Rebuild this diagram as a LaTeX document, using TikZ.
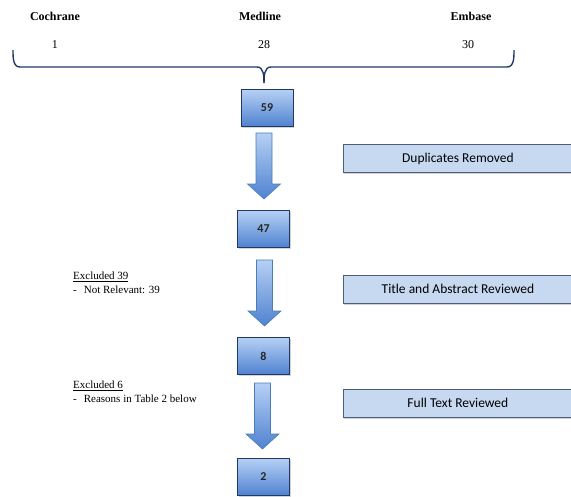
\documentclass[tikz,border=0pt]{standalone}
\usepackage{fontspec}
\setmainfont{Liberation Serif}
\newfontfamily\calibrifont{Carlito}
\usetikzlibrary{calc,shadows}

\definecolor{boxline}{HTML}{1F3864}
\definecolor{boxtop}{HTML}{B6D0F4}
\definecolor{boxbot}{HTML}{4F82D0}
\definecolor{arrowline}{HTML}{4A7EBB}
\definecolor{steplight}{HTML}{C6D9F1}
\definecolor{stepline}{HTML}{4E5D7E}

\begin{document}
\begin{tikzpicture}[x=1pt,y=-1pt,
    numbox/.style={
        rectangle,
        draw=boxline,
        line width=1pt,
        top color=boxtop,
        bottom color=boxbot,
        minimum width=52pt,
        minimum height=37pt,
        font=\calibrifont\bfseries\fontsize{12}{14}\selectfont,
        text=black!85,
        drop shadow={shadow xshift=1pt,shadow yshift=-1.5pt,opacity=0.35}
    },
    stepbox/.style={
        rectangle,
        draw=stepline,
        line width=0.8pt,
        fill=steplight,
        minimum width=229pt,
        minimum height=28pt,
        anchor=west,
        font=\calibrifont\fontsize{13.5}{15}\selectfont,
        drop shadow={shadow xshift=1pt,shadow yshift=-1.5pt,opacity=0.35}
    },
    source/.style={font=\bfseries\fontsize{12}{14}\selectfont},
    count/.style={font=\fontsize{12}{14}\selectfont},
    note/.style={anchor=north west, align=left, inner sep=0pt,
        font=\fontsize{11}{14}\selectfont},
    fatarrow/.style={
        draw=arrowline,
        line width=0.6pt,
        top color=boxtop,
        bottom color=boxbot,
        to path={
            let \p1=(\tikztostart), \p2=(\tikztotarget) in
            (\x1-8pt,\y1) -- (\x1+8pt,\y1) -- (\x1+8pt,\y2+15pt)
            -- (\x1+16.5pt,\y2+15pt) -- (\x1,\y2) -- (\x1-16.5pt,\y2+15pt)
            -- (\x1-8pt,\y2+15pt) -- cycle}
    },
    brace/.style={draw=boxline, line width=1.4pt}
]
\useasboundingbox (0,0) rectangle (571,496);

% sources
\node[source] (cochrane) at (55,16) {Cochrane};
\node[source] (medline) at (260,16) {Medline};
\node[source] (embase) at (471,16) {Embase};

\node[count] (n1) at (55,45) {1};
\node[count] (n28) at (264,45) {28};
\node[count] (n30) at (468,45) {30};

% brace
\coordinate (tip) at (264,83);
\draw[brace] (13,50) to[out=-90,in=180] (20,67) -- (257,67)
    to[out=0,in=90] (tip);
\draw[brace] (514,50) to[out=-90,in=0] (507,67) -- (271,67)
    to[out=180,in=90] (tip);

% counts
\node[numbox] (b59) at (267,108) {59};
\node[numbox] (b47) at (263.5,229) {47};
\node[numbox] (b8) at (263.5,356) {8};
\node[numbox] (b2) at (263.5,477) {2};

\draw[fatarrow] ($(b59.south)+(-3,6)$) to ($(b47.north)+(0,-11)$);
\draw[fatarrow] ($(b47.south)+(1,12)$) to ($(b8.north)+(0,-11)$);
\draw[fatarrow] ($(b8.south)+(-1,8)$) to ($(b2.north)+(0,-9)$);

% steps
\node[stepbox] (dup) at (343,158.5) {Duplicates Removed};
\node[stepbox] (title) at (343,289) {Title and Abstract Reviewed};
\node[stepbox] (full) at (343,403) {Full Text Reviewed};

% exclusions
\node[note] (ex39) at (73,272) {\underline{Excluded 39}\\
    -\hspace{7pt}Not Relevant: 39};
\node[note] (ex6) at (73,381) {\underline{Excluded 6}\\
    -\hspace{7pt}Reasons in Table 2 below};

\end{tikzpicture}
\end{document}
